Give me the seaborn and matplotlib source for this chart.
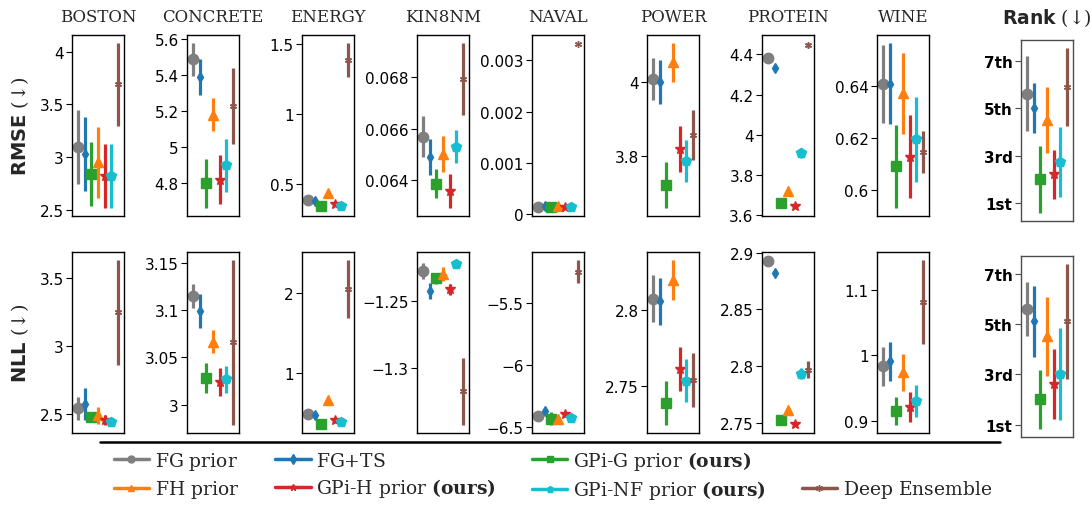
import numpy as np
import pandas as pd
import seaborn as sns
import matplotlib
matplotlib.use('Agg')
import matplotlib.pyplot as plt
from matplotlib.lines import Line2D
from matplotlib.ticker import FixedLocator, FuncFormatter

methods = ['FG prior', 'FG+TS', 'GPi-G prior', 'FH prior', 'GPi-H prior',
           'GPi-NF prior', 'Deep Ensemble']
datasets = ['BOSTON', 'CONCRETE', 'ENERGY', 'KIN8NM', 'NAVAL', 'POWER',
            'PROTEIN', 'WINE']

# values follow the order of `methods`
rmse_boston = [3.10, 3.03, 2.84, 2.95, 2.82, 2.82, 3.69]
rmse_boston_err = [0.35, 0.35, 0.30, 0.34, 0.30, 0.30, 0.39]
rmse_concrete = [5.486, 5.387, 4.80, 5.18, 4.82, 4.90, 5.23]
rmse_concrete_err = [0.09, 0.10, 0.135, 0.09, 0.135, 0.145, 0.21]
rmse_energy = [0.389, 0.379, 0.343, 0.44, 0.36, 0.347, 1.385]
rmse_energy_err = [0.01, 0.02, 0.01, 0.01, 0.015, 0.01, 0.12]
rmse_kin8nm = [0.06569, 0.06491, 0.06387, 0.06501, 0.06358, 0.06530, 0.06791]
rmse_kin8nm_err = [0.0008, 0.0007, 0.00056, 0.0007, 0.00065, 0.00065, 0.0014]
rmse_naval = [0.00015, 0.00017, 0.00015, 0.00017, 0.00015, 0.00014, 0.00331]
rmse_naval_err = [0.00001, 0.00002, 0.00001, 0.00001, 0.00001, 0.00001, 0.00002]
rmse_power = [4.009, 4.00, 3.722, 4.054, 3.82, 3.787, 3.858]
rmse_power_err = [0.056, 0.06, 0.062, 0.052, 0.062, 0.056, 0.068]
rmse_protein = [4.382, 4.333, 3.663, 3.72, 3.647, 3.907, 4.445]
rmse_protein_err = [0.01, 0.01, 0.01, 0.01, 0.01, 0.025, 0.01]
rmse_wine = [0.641, 0.641, 0.6092, 0.6372, 0.6128, 0.6196, 0.6146]
rmse_wine_err = [0.015, 0.0155, 0.016, 0.0157, 0.016, 0.0164, 0.008]
rmse_rank = [5.62, 5.0, 2.01, 4.51, 2.22, 2.74, 5.90]
rmse_rank_err = [1.57, 1.05, 1.4, 1.4, 1.03, 1.48, 1.63]

nll_boston = [2.543, 2.573, 2.475, 2.49, 2.455, 2.443, 3.248]
nll_boston_err = [0.085, 0.12, 0.03, 0.062, 0.035, 0.02, 0.385]
nll_concrete = [3.1146, 3.0993, 3.0284, 3.0664, 3.0238, 3.0266, 3.0657]
nll_concrete_err = [0.0125, 0.018, 0.016, 0.012, 0.015, 0.0145, 0.087]
nll_energy = [0.474, 0.462, 0.355, 0.658, 0.402, 0.376, 2.047]
nll_energy_err = [0.015, 0.03, 0.01, 0.015, 0.03, 0.015, 0.36]
nll_kin8nm = [-1.2274, -1.2425, -1.2329, -1.2299, -1.241, -1.2224, -1.3171]
nll_kin8nm_err = [0.006, 0.006, 0.004, 0.0053, 0.004, 0.003, 0.025]
nll_naval = [-6.411, -6.373, -6.432, -6.432, -6.397, -6.424, -5.249]
nll_naval_err = [0.01, 0.02, 0.05, 0.03, 0.02, 0.01, 0.092]
nll_power = [2.8078, 2.806, 2.7387, 2.82, 2.7611, 2.7533, 2.7538]
nll_power_err = [0.0155, 0.0157, 0.0145, 0.0133, 0.0146, 0.0143, 0.018]
nll_protein = [2.8922, 2.8818, 2.7524, 2.761, 2.7491, 2.7931, 2.7967]
nll_protein_err = [0.001, 0.001, 0.001, 0.001, 0.001, 0.005, 0.0075]
nll_wine = [0.9829, 0.9906, 0.9145, 0.974, 0.9213, 0.93, 1.0818]
nll_wine_err = [0.03, 0.03, 0.021, 0.028, 0.023, 0.0245, 0.064]
nll_rank = [5.6, 5.11, 2.0, 4.51, 2.63, 3.0, 5.11]
nll_rank_err = [1.07, 1.43, 1.17, 1.58, 1.4, 1.83, 2.28]

rmse_ticks = [[2.5, 3, 3.5, 4], [4.8, 5, 5.2, 5.4, 5.6], [0.5, 1, 1.5],
              [0.064, 0.066, 0.068], [0, 0.001, 0.002, 0.003], [3.8, 4],
              [3.6, 3.8, 4, 4.2, 4.4], [0.6, 0.62, 0.64, 0.66]]
nll_ticks = [[2.5, 3, 3.5], [3, 3.05, 3.1, 3.15], [1, 2], [-1.3, -1.25],
             [-6.5, -6, -5.5], [2.75, 2.8], [2.75, 2.8, 2.85, 2.9],
             [0.9, 1, 1.1]]
rank_ticks = [1, 3, 5, 7]
rank_labels = ['1st', '3rd', '5th', '7th']

colors = {'FG prior': '#7f7f7f', 'FG+TS': '#1f77b4', 'GPi-G prior': '#2ca02c',
          'FH prior': '#ff7f0e', 'GPi-H prior': '#d62728',
          'GPi-NF prior': '#17becf', 'Deep Ensemble': '#8c564b'}
markers = {'FG prior': 'o', 'FG+TS': 'd', 'GPi-G prior': 's', 'FH prior': '^',
           'GPi-H prior': '*', 'GPi-NF prior': 'p', 'Deep Ensemble': (6, 2, 0)}
msizes = {'FG prior': 7.5, 'FG+TS': 5.5, 'GPi-G prior': 7, 'FH prior': 7,
          'GPi-H prior': 7, 'GPi-NF prior': 7, 'Deep Ensemble': 5}

# long table
rows = []
g = globals()
for metric in ['rmse', 'nll']:
    for ds in datasets + ['RANK']:
        vals = g['%s_%s' % (metric, ds.lower())]
        errs = g['%s_%s_err' % (metric, ds.lower())]
        for ii, (m, v, e) in enumerate(zip(methods, vals, errs)):
            rows.append(dict(metric=metric, dataset=ds, method=m, pos=ii,
                             mean=v, err=e))
data = pd.DataFrame(rows)

sns.set_theme(style='ticks')
plt.rcParams['font.family'] = ['DejaVu Sans']
plt.rcParams['mathtext.fontset'] = 'custom'
plt.rcParams['mathtext.rm'] = 'DejaVu Serif'
plt.rcParams['mathtext.bf'] = 'DejaVu Serif:bold'
plt.rcParams['mathtext.sf'] = 'DejaVu Sans:bold'

W, H = 1092, 506
fig = plt.figure(figsize=(W / 100, H / 100), dpi=100)


def add_ax(left, top, width, height):
    return fig.add_axes([left / W, 1 - (top + height) / H, width / W, height / H])


def num_fmt(v, pos):
    return ('%g' % v).replace('-', '\u2212')


def draw(ax, sub):
    for _, r in sub.iterrows():
        c = colors[r['method']]
        ax.errorbar(r['pos'], r['mean'], yerr=r['err'], fmt='none',
                    ecolor=c, elinewidth=2.3, capsize=0)
        ax.plot(r['pos'], r['mean'], ls='none', marker=markers[r['method']],
                color=c, mec=c, ms=msizes[r['method']])
    ax.set_xlim(-0.9, 6.9)
    ax.set_xticks([])
    for sp in ax.spines.values():
        sp.set_linewidth(1.0)
        sp.set_color('black')
    ax.tick_params(axis='y', direction='out', length=4, width=0.8,
                   labelsize=11, pad=2, colors='black')


tops = [36, 253]
rank_tops = [41, 257]
for ri, metric in enumerate(['rmse', 'nll']):
    ticks = rmse_ticks if metric == 'rmse' else nll_ticks
    for ci, ds in enumerate(datasets):
        ax = add_ax(72 + 115 * ci, tops[ri], 52, 181)
        draw(ax, data[(data['metric'] == metric) & (data['dataset'] == ds)])
        ax.yaxis.set_major_locator(FixedLocator(ticks[ci]))
        ax.yaxis.set_major_formatter(FuncFormatter(num_fmt))
        if ri == 0:
            ax.set_title(ds, fontfamily='DejaVu Serif', fontsize=12, pad=10)
        if ci == 0:
            lab = 'RMSE' if metric == 'rmse' else 'NLL'
            ax.set_ylabel(r'$\mathsf{%s}$ (↓)' % lab, fontsize=14,
                          fontfamily='DejaVu Serif', labelpad=6)
    ax = add_ax(1021, rank_tops[ri], 52, 181)
    draw(ax, data[(data['metric'] == metric) & (data['dataset'] == 'RANK')])
    ax.set_yticks(rank_ticks)
    ax.set_yticklabels(rank_labels, fontweight='bold')
    for sp in ax.spines.values():
        sp.set_color('0.3')
    ax.tick_params(axis='y', colors='0.3', labelcolor='black')
    if ri == 0:
        ax.set_title(r'$\mathsf{Rank}$ (↓)', fontsize=13.5,
                     fontfamily='DejaVu Serif', pad=12)

# separator line above legend
fig.add_artist(Line2D([100 / W, 1000 / W], [1 - 443 / H, 1 - 443 / H],
                      color='black', lw=1.8, transform=fig.transFigure))

# every label goes through mathtext so all legend rows get the same height
handle_of = {m: Line2D([], [], color=colors[m], marker=markers[m], lw=2.5,
                       ms=5) for m in methods}
labels_of = {m: m + r'$\,$' for m in methods}
for m in ['GPi-G prior', 'GPi-H prior', 'GPi-NF prior']:
    labels_of[m] = m + r' $\mathbf{(ours)}$'
blank = Line2D([], [], alpha=0)
order = ['FG prior', 'FH prior', 'FG+TS', 'GPi-H prior', 'GPi-G prior',
         'GPi-NF prior', None, 'Deep Ensemble']
handles = [handle_of[m] if m else blank for m in order]
# hidden placeholder, same glyph extents as the "(ours)" labels
labels = [labels_of[m] if m else r'Gp $\mathbf{(ours)}$' for m in order]
leg = fig.legend(handles, labels, loc='center',
                 bbox_to_anchor=(553 / W, 1 - 476 / H),
                 ncol=4, frameon=False, handlelength=1.9, columnspacing=1.9,
                 labelspacing=0.35, handletextpad=0.3,
                 prop={'family': 'DejaVu Serif', 'size': 13.5})
leg.get_texts()[order.index(None)].set_color('none')

fig.savefig('out.png', dpi=100)
